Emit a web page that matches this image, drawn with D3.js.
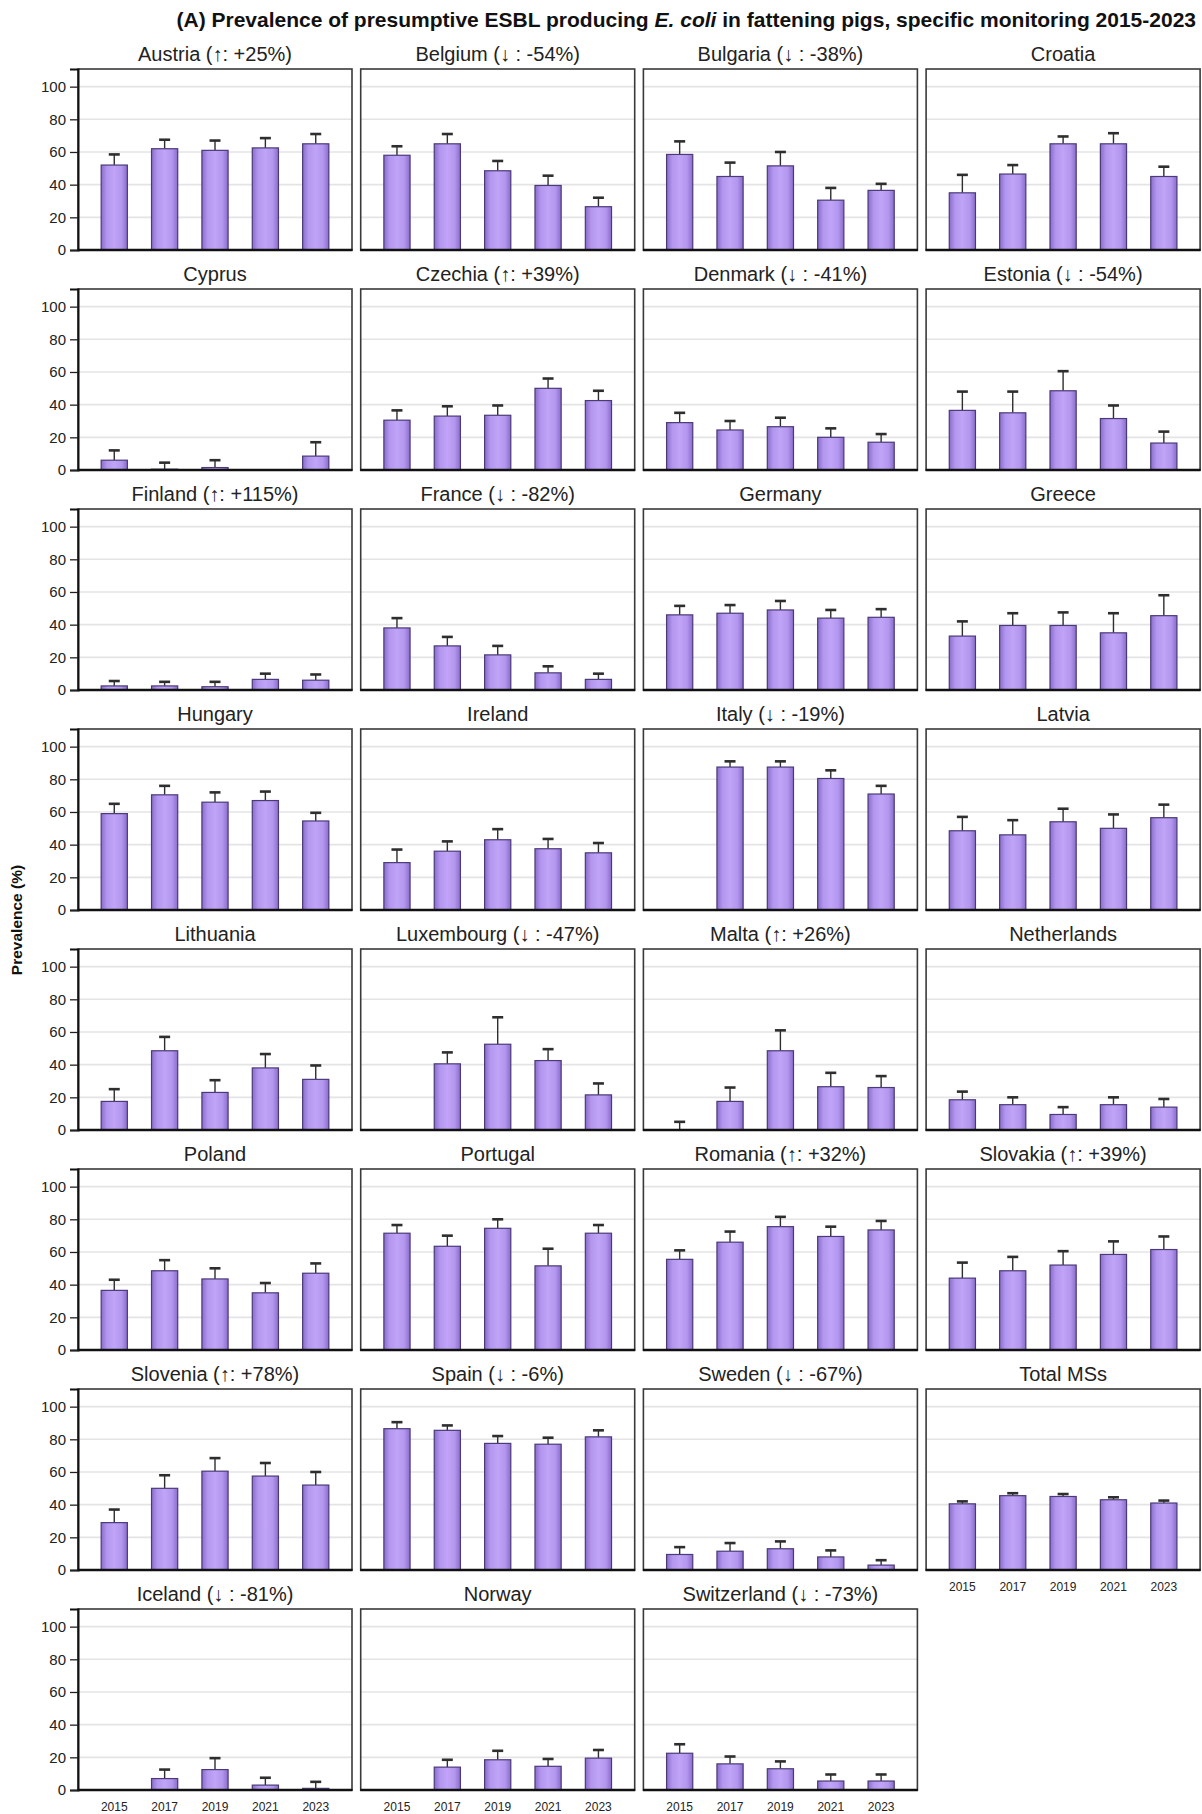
<!DOCTYPE html>
<html>
<head>
<meta charset="utf-8">
<script src="https://cdn.jsdelivr.net/npm/d3@7"></script>
<style>
  html, body { margin: 0; padding: 0; background: #fff; }
  svg { display: block; font-family: "Liberation Sans", Arial, Helvetica, sans-serif; }
</style>
</head>
<body>
<svg id="chart" width="1202" height="1814"></svg>
<script>
// ---------- DATA ----------
const years = ["2015", "2017", "2019", "2021", "2023"];
const yTicks = [0, 20, 40, 60, 80, 100];

const panelTitles = [
  "Austria (↑: +25%)", "Belgium (↓ : -54%)", "Bulgaria (↓ : -38%)", "Croatia",
  "Cyprus", "Czechia (↑: +39%)", "Denmark (↓ : -41%)", "Estonia (↓ : -54%)",
  "Finland (↑: +115%)", "France (↓ : -82%)", "Germany", "Greece",
  "Hungary", "Ireland", "Italy (↓ : -19%)", "Latvia",
  "Lithuania", "Luxembourg (↓ : -47%)", "Malta (↑: +26%)", "Netherlands",
  "Poland", "Portugal", "Romania (↑: +32%)", "Slovakia (↑: +39%)",
  "Slovenia (↑: +78%)", "Spain (↓ : -6%)", "Sweden (↓ : -67%)", "Total MSs",
  "Iceland (↓ : -81%)", "Norway", "Switzerland (↓ : -73%)"
];

// prevalence (%) per year: 2015, 2017, 2019, 2021, 2023 (null = no data)
const prevalence = [
  [52, 62, 61, 62.5, 65],
  [58, 65, 48.5, 39.5, 26.5],
  [58.5, 45, 51.5, 30.5, 36.5],
  [35, 46.5, 65, 65, 45],
  [6, 0.5, 1.5, null, 8.5],
  [30.5, 33, 33.5, 50, 42.5],
  [29, 24.5, 26.5, 20, 17],
  [36.5, 35, 48.5, 31.5, 16.5],
  [2.5, 2.5, 2, 6.5, 6],
  [38, 27, 21.5, 10.5, 6.5],
  [46, 47, 49, 44, 44.5],
  [33, 39.5, 39.5, 35, 45.5],
  [59, 70.5, 66, 67, 54.5],
  [29, 36, 43, 37.5, 35],
  [null, 87.5, 87.5, 80.5, 71],
  [48.5, 46, 54, 50, 56.5],
  [17.5, 48.5, 23, 38, 31],
  [null, 40.5, 52.5, 42.5, 21.5],
  [0, 17.5, 48.5, 26.5, 26],
  [18.5, 15.5, 9.5, 15.5, 14],
  [36.5, 48.5, 43.5, 35, 47],
  [71.5, 63.5, 74.5, 51.5, 71.5],
  [55.5, 66, 75.5, 69.5, 73.5],
  [44, 48.5, 52, 58.5, 61.5],
  [29, 50, 60.5, 57.5, 52],
  [86.5, 85.5, 77.5, 77, 81.5],
  [9.5, 11.5, 13, 8, 3],
  [40.5, 45.5, 45, 43, 41],
  [null, 7, 12.5, 3, 1],
  [null, 14, 18.5, 14.5, 19.5],
  [22.5, 16, 13, 5.5, 5.5]
];

// upper 95% confidence limit (%)
const upperCI = [
  [58.5, 67.5, 67, 68.5, 71],
  [63.5, 71, 54.5, 45.5, 32],
  [66.5, 53.5, 60, 38, 40.5],
  [46, 52, 69.5, 71.5, 51],
  [12, 4.5, 6, null, 17],
  [36.5, 39, 39.5, 56, 48.5],
  [35, 30, 32, 25.5, 22],
  [48, 48, 60.5, 39.5, 23.5],
  [5.5, 5, 5, 10, 9.5],
  [44, 32.5, 27, 14.5, 10],
  [51.5, 52, 54.5, 49, 49.5],
  [42, 47, 47.5, 47, 58],
  [65, 76, 72, 72.5, 59.5],
  [37, 42, 49.5, 43.5, 41],
  [null, 91, 91, 85.5, 76],
  [57, 55, 62, 58.5, 64.5],
  [25, 57, 30.5, 46.5, 39.5],
  [null, 47.5, 69, 49.5, 28.5],
  [5, 26, 61, 35, 33],
  [23.5, 20, 14, 20, 19],
  [43, 55, 50, 41, 53],
  [76.5, 70, 80, 62, 76.5],
  [61, 72.5, 81.5, 75.5, 79],
  [53.5, 57, 60.5, 66.5, 69.5],
  [37, 58, 68.5, 65.5, 60],
  [90.5, 88.5, 82, 81, 85.5],
  [14, 16.5, 17.5, 12, 6],
  [42, 47, 46.5, 44.5, 42.5],
  [null, 12.5, 19.5, 7.5, 5],
  [null, 18.5, 24, 19, 24.5],
  [28, 20.5, 17.5, 9.5, 9.5]
];

// panels that show year labels under them
const showYearLabels = ["Total MSs", "Iceland (↓ : -81%)", "Norway", "Switzerland (↓ : -73%)"];

const mainTitle = ["(A) Prevalence of presumptive ESBL producing ", "E. coli", " in fattening pigs, specific monitoring 2015-2023"];
const yAxisTitle = "Prevalence (%)";

// ---------- LAYOUT ----------
const svg = d3.select("#chart");
const ncol = 4;
const colLeft0 = 78, colStep = 282.7;
const rowTop0 = 69, rowStep = 220;
const pw = 274, ph = 181;

const defs = svg.append("defs");
const grad = defs.append("linearGradient").attr("id", "barGrad")
  .attr("x1", "0%").attr("x2", "100%").attr("y1", "0%").attr("y2", "0%");
[["0%", "#8a6dcb"], ["22%", "#b396ee"], ["50%", "#c0a4f7"], ["78%", "#b396ee"], ["100%", "#8a6dcb"]]
  .forEach(([o, c]) => grad.append("stop").attr("offset", o).attr("stop-color", c));

// main title
const t = svg.append("text")
  .attr("x", 1196).attr("y", 27)
  .attr("text-anchor", "end")
  .attr("font-size", 21).attr("font-weight", "bold").attr("fill", "#111");
t.append("tspan").text(mainTitle[0]);
t.append("tspan").attr("font-style", "italic").text(mainTitle[1]);
t.append("tspan").text(mainTitle[2]);

// y-axis title
svg.append("text")
  .attr("transform", "translate(22,920) rotate(-90)")
  .attr("text-anchor", "middle")
  .attr("font-size", 15.5).attr("font-weight", "bold").attr("fill", "#111")
  .text(yAxisTitle);

const x = d3.scaleBand().domain(years).range([0, pw]).paddingInner(0.48).paddingOuter(0.46);
const y = d3.scaleLinear().domain([0, 110.8]).range([ph, 0]);

panelTitles.forEach((title, i) => {
  const r = Math.floor(i / ncol), c = i % ncol;
  const g = svg.append("g").attr("transform", `translate(${colLeft0 + c * colStep},${rowTop0 + r * rowStep})`);

  // panel title
  g.append("text")
    .attr("x", pw / 2).attr("y", -8)
    .attr("text-anchor", "middle")
    .attr("font-size", 20).attr("fill", "#222")
    .text(title);

  // gridlines
  g.append("g").selectAll("line")
    .data(yTicks.filter(v => v > 0))
    .join("line")
    .attr("x1", 0).attr("x2", pw)
    .attr("y1", d => y(d)).attr("y2", d => y(d))
    .attr("stroke", "#e4e4e4").attr("stroke-width", 1.6);

  const vals = prevalence[i], ups = upperCI[i];
  const rows = years.map((yr, k) => ({ yr, v: vals[k], u: ups[k] })).filter(d => d.v !== null);

  // error bars (upper)
  const eb = g.append("g").attr("stroke", "#2e2e2e");
  eb.selectAll("line.v").data(rows).join("line").attr("class", "v")
    .attr("x1", d => x(d.yr) + x.bandwidth() / 2).attr("x2", d => x(d.yr) + x.bandwidth() / 2)
    .attr("y1", d => y(d.v)).attr("y2", d => y(d.u))
    .attr("stroke-width", 1.4);
  eb.selectAll("line.cap").data(rows).join("line").attr("class", "cap")
    .attr("x1", d => x(d.yr) + x.bandwidth() / 2 - 5.5).attr("x2", d => x(d.yr) + x.bandwidth() / 2 + 5.5)
    .attr("y1", d => y(d.u)).attr("y2", d => y(d.u))
    .attr("stroke-width", 2.6);

  // bars
  g.append("g").selectAll("rect")
    .data(rows.filter(d => d.v > 0))
    .join("rect")
    .attr("x", d => x(d.yr)).attr("width", x.bandwidth())
    .attr("y", d => y(d.v)).attr("height", d => y(0) - y(d.v))
    .attr("fill", "url(#barGrad)")
    .attr("stroke", "#4a3a78").attr("stroke-width", 1.2);

  // frame
  g.append("rect").attr("x", 0).attr("y", 0).attr("width", pw).attr("height", ph)
    .attr("fill", "none").attr("stroke", "#3a3a3a").attr("stroke-width", 1.6);
  // bottom axis line
  g.append("line").attr("x1", -0.5).attr("x2", pw + 0.5).attr("y1", ph).attr("y2", ph)
    .attr("stroke", "#111").attr("stroke-width", 2.6);

  // y axis on first column
  if (c === 0) {
    const ya = g.append("g")
      .call(d3.axisLeft(y).tickValues(yTicks).tickSize(8).tickPadding(4));
    ya.select(".domain").attr("stroke", "#111").attr("stroke-width", 2);
    ya.selectAll(".tick line").attr("stroke", "#222").attr("stroke-width", 1.3);
    ya.selectAll(".tick text").attr("font-size", 15).attr("fill", "#222")
      .attr("font-family", "'Liberation Sans', Arial, sans-serif");
  }

  // x labels
  if (showYearLabels.includes(title)) {
    const xa = g.append("g").attr("transform", `translate(0,${ph})`)
      .call(d3.axisBottom(x).tickSize(0).tickPadding(12));
    xa.select(".domain").remove();
    xa.selectAll(".tick text").attr("font-size", 12).attr("fill", "#222")
      .attr("font-family", "'Liberation Sans', Arial, sans-serif");
  }
});
</script>
</body>
</html>
